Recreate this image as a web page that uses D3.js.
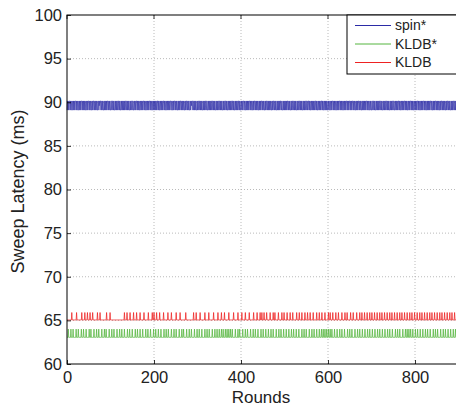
<!DOCTYPE html>
<html>
<head>
<meta charset="utf-8">
<script src="https://cdn.jsdelivr.net/npm/d3@7/dist/d3.min.js"></script>
<style>
  html, body { margin: 0; padding: 0; background: #fff; }
  svg { display: block; font-family: "Liberation Sans", Arial, sans-serif; }
</style>
</head>
<body>
<svg id="chart" width="456" height="406"></svg>
<script>
// Axis ticks
const xTicks = [0, 200, 400, 600, 800];
const yTicks = [60, 65, 70, 75, 80, 85, 90, 95, 100];

// Series names and colours
const seriesNames = ["spin*", "KLDB*", "KLDB"];
const seriesColors = ["#2b2ba6", "#55b53f", "#ee2222"];

// spin*: one character per round, 0 = 89.1 ms, 1 = 90.15 ms, 2 = 89.6 ms
const spinRounds = [
  "01010110101001010101101010010101011010101010010101",
  "10101001010110101010010121011010100101010101101010",
  "01011010100101010110101001010101010110101010010101",
  "10100101011010101001010101101010010101011010100101",
  "01010101101010010101011010100101010101101001010110",
  "10100101010110101010010101101010010121011010101001",
  "01011010101001010101101001010101011010101001010101",
  "10101010010101101010010101010110101001010101101010",
  "01010110100101010101101010010101101010100101010110",
  "10100101011010101010010101101010010101010110100101",
  "01010101101010010101101010100101011010101001010101",
  "10101101010010101010110101001010101101010010101010",
  "01010010101101010100101010110101010010101011010101",
  "10101011010100101010110101001010101010110101001010",
  "01011010100101010101101010010101011010101001010101",
  "10100101010110101001010101101010100101011010101001",
  "01010110101001010101101010010101010110100101010110",
  "10101001010110101010010101101010010101011010101010"
].join("");
const spinLevels = [89.1, 90.15, 89.6];

// KLDB*: baseline and the rounds where it jumps up
const kldbStarBase = 63.05;
const kldbStarPeak = 64.0;
const kldbStarPeaks = [3, 9, 14, 21, 26, 33, 38, 44, 51, 55, 62, 68, 73, 80, 86, 90, 97, 103,
  108, 115, 121, 126, 132, 139, 144, 150, 157, 162, 168, 174, 181, 186, 192, 199, 204, 210,
  216, 223, 228, 233, 240, 246, 251, 258, 264, 268, 275, 281, 286, 293, 299, 304, 310, 317,
  322, 327, 334, 340, 345, 350, 355, 359, 364, 368, 372, 376, 380, 387, 393, 397,
  404, 410, 415, 422, 428, 433, 439, 446, 451, 457, 463, 469, 474, 481, 487, 492, 498, 504,
  510, 516, 521, 527, 533, 540, 545, 550, 557, 563, 568, 574, 580, 585, 589, 593, 597,
  601, 605, 609, 615, 621, 627, 632, 638, 645, 650, 655, 662, 668, 673, 679, 685, 691, 696,
  702, 708, 714, 719, 725, 731, 737, 742, 748, 755, 760, 765, 772, 778, 782, 786, 790,
  795, 801, 806, 812, 818, 824, 829, 835, 842, 847, 852, 859, 865, 870, 876, 882, 888, 893];

// KLDB: baseline and the rounds where it jumps up
const kldbBase = 65.05;
const kldbPeak = 65.9;
const kldbPeaks = [11, 22, 34, 41, 47, 53, 59, 70, 76, 91, 99, 132, 138, 145, 153, 160, 168,
  177, 187, 196, 200, 206, 213, 222, 232, 240, 251, 260, 273, 291, 297, 306, 317, 326, 337,
  347, 355, 362, 372, 383, 393, 402, 410, 419, 429, 437, 444, 448, 453, 459, 467, 474, 478,
  486, 494, 499, 506, 513, 519, 528, 534, 540, 547, 553, 559, 566, 574, 580, 586, 593, 601,
  605, 611, 618, 624, 632, 639, 644, 652, 658, 666, 673, 678, 684, 690, 696, 701, 707, 713,
  719, 724, 730, 736, 742, 747, 753, 759, 765, 770, 776, 782, 788, 793, 799, 805, 811, 816,
  822, 828, 834, 839, 845, 851, 857, 862, 868, 874, 880, 885, 891];

const nRounds = spinRounds.length;

// Build per-round series
function expand(base, peak, peaks) {
  const set = new Set(peaks);
  return d3.range(nRounds).map(i => ({ x: i, y: set.has(i) ? peak : base }));
}
const spinData = Array.from(spinRounds).map((c, i) => ({ x: i, y: spinLevels[+c] }));
const kldbStarData = expand(kldbStarBase, kldbStarPeak, kldbStarPeaks);
const kldbData = expand(kldbBase, kldbPeak, kldbPeaks);
const allSeries = [spinData, kldbStarData, kldbData];

const svg = d3.select("#chart");
const plotLeft = 67, plotTop = 15, plotBottom = 364;
const x = d3.scaleLinear().domain([0, 900]).range([plotLeft, plotLeft + 391.5]);
const y = d3.scaleLinear().domain([60, 100]).range([plotBottom, plotTop]);
const plotRight = x.range()[1];

// Dotted grid
const grid = svg.append("g").attr("stroke", "#a8a8a8").attr("stroke-width", 0.8)
  .attr("stroke-dasharray", "1,2");
grid.selectAll(".gx").data(xTicks.filter(t => t > 0)).join("line")
  .attr("x1", d => x(d)).attr("x2", d => x(d)).attr("y1", plotTop).attr("y2", plotBottom);
grid.selectAll(".gy").data(yTicks.filter(t => t > 60 && t < 100)).join("line")
  .attr("y1", d => y(d)).attr("y2", d => y(d)).attr("x1", plotLeft).attr("x2", plotRight);

// Series lines
const line = d3.line().x(d => x(d.x)).y(d => y(d.y));
svg.append("g").selectAll("path").data(allSeries).join("path")
  .attr("d", line)
  .attr("fill", "none")
  .attr("stroke", (d, i) => seriesColors[i])
  .attr("stroke-width", (d, i) => i === 0 ? 0.6 : 0.75);

// Axes with inward ticks
const xAxis = d3.axisBottom(x).tickValues(xTicks).tickSize(-4).tickPadding(7).tickFormat(d3.format("d"));
const yAxis = d3.axisLeft(y).tickValues(yTicks).tickSize(-4).tickPadding(5).tickFormat(d3.format("d"));
const gx = svg.append("g").attr("transform", `translate(0,${plotBottom})`).call(xAxis);
const gy = svg.append("g").attr("transform", `translate(${plotLeft},0)`).call(yAxis);
[gx, gy].forEach(g => {
  g.select(".domain").remove();
  g.selectAll("line").attr("stroke", "#000").attr("stroke-width", 0.8);
  g.selectAll("text").attr("fill", "#222").style("font-size", "16.5px")
    .style("font-family", "'Liberation Sans', Arial, sans-serif");
});
gx.selectAll("text").attr("dy", "0.72em");
// Ticks on top edge
svg.append("g").selectAll("line").data(xTicks).join("line")
  .attr("x1", d => x(d)).attr("x2", d => x(d)).attr("y1", plotTop).attr("y2", plotTop + 4)
  .attr("stroke", "#000").attr("stroke-width", 0.8);

// Frame
svg.append("rect").attr("x", plotLeft).attr("y", plotTop)
  .attr("width", plotRight - plotLeft).attr("height", plotBottom - plotTop)
  .attr("fill", "none").attr("stroke", "#000").attr("stroke-width", 1);

// Axis titles
svg.append("text").attr("x", 261).attr("y", 403).attr("text-anchor", "middle")
  .style("font-size", "17px").attr("fill", "#222").text("Rounds");
svg.append("text").attr("transform", `translate(24,${(plotTop + plotBottom) / 2 + 2}) rotate(-90)`)
  .attr("text-anchor", "middle").style("font-size", "18px").attr("fill", "#222")
  .text("Sweep Latency (ms)");

// Legend
const lg = svg.append("g");
lg.append("rect").attr("x", 347).attr("y", plotTop).attr("width", plotRight - 347).attr("height", 59)
  .attr("fill", "#fff").attr("stroke", "#000").attr("stroke-width", 1);
const rowsY = [25.5, 44, 62.5];
seriesNames.forEach((name, i) => {
  lg.append("line").attr("x1", 355).attr("x2", 391).attr("y1", rowsY[i]).attr("y2", rowsY[i])
    .attr("stroke", seriesColors[i]).attr("stroke-width", 1);
  lg.append("text").attr("x", 395).attr("y", rowsY[i]).attr("dy", "0.35em")
    .style("font-size", "14px").attr("fill", "#222").text(name);
});
</script>
</body>
</html>
